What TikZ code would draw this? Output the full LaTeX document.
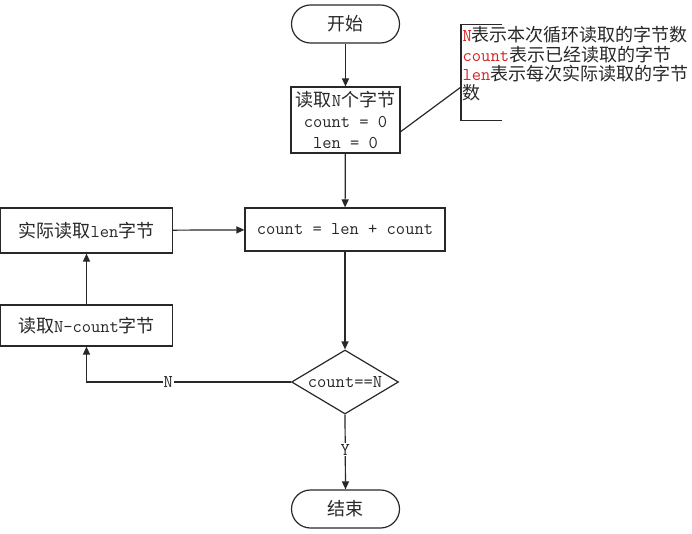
\documentclass[tikz,border=0pt]{standalone}
\usepackage{fontspec}
\newfontfamily\cjk{Noto Sans CJK SC}
\usetikzlibrary{shapes.geometric,arrows.meta}
\definecolor{ink}{RGB}{40,40,40}
\definecolor{redtxt}{RGB}{215,35,35}
\tikzset{
  base/.style={draw=ink, line width=1.2pt, text=ink, inner sep=0pt, align=center},
  term/.style={base, rounded corners=19pt, minimum width=108pt, minimum height=38pt},
  proc/.style={base, rectangle},
  cond/.style={base, diamond, minimum width=107pt, minimum height=64pt, aspect=1.67},
  conn/.style={draw=ink, line width=1.2pt, -{Triangle[length=8pt,width=7pt]}},
  plain/.style={draw=ink, line width=1.2pt},
  lbl/.style={fill=white, text=ink, inner sep=1pt}
}
\begin{document}
\begin{tikzpicture}[x=1pt,y=-1pt, font=\fontsize{18}{21}\selectfont\ttfamily]
\useasboundingbox (0,0) rectangle (692,534);
\fill[white] (0,0) rectangle (692,534);
\node[term] (start) at (345.5,24) {{\cjk 开始}};
\node[proc, minimum width=109pt, minimum height=66pt] (read) at (345.5,120)
  {{\cjk 读取}N{\cjk 个字节}\\count = 0\\len = 0};
\node[proc, minimum width=200pt, minimum height=43pt] (cnt) at (345,229.5) {count = len + count};
\node[proc, minimum width=172pt, minimum height=45pt] (act) at (86.5,230.5) {{\cjk 实际读取}len{\cjk 字节}};
\node[proc, minimum width=172pt, minimum height=41pt] (rest) at (86.5,325.5) {{\cjk 读取}N-count{\cjk 字节}};
\node[cond] (dia) at (345,382) {count==N};
\node[term] (stop) at (345.5,509) {{\cjk 结束}};

\draw[conn] (start) -- (read);
\draw[conn] (read) -- (cnt);
\draw[conn] (cnt) -- (dia);
\draw[conn] (act) -- (cnt);
\draw[conn] (rest) -- (act);
\draw[conn] (dia.west) -| node[lbl, pos=0.3] {N} (rest.south);
\draw[conn] (dia.south) -- node[lbl, pos=0.47] {Y} (stop.north);

% annotation
\coordinate (bt) at (502,24.5);
\coordinate (bc) at (461,87);
\coordinate (bb) at (502,120.5);
\draw[plain] (bt) -- (461,24.5) -- (461,120.5) -- (bb);
\draw[plain] (read.348) -- (bc);
\node[anchor=north west, inner sep=0pt, align=left, text=ink,
      font=\fontsize{18}{19.3}\selectfont\ttfamily] (note) at (462.5,26.5)
  {{\color{redtxt}N}{\cjk 表示本次循环读取的字节数}\\
   {\color{redtxt}count}{\cjk 表示已经读取的字节}\\
   {\color{redtxt}len}{\cjk 表示每次实际读取的字节}\\
   {\cjk 数}};
\end{tikzpicture}
\end{document}
